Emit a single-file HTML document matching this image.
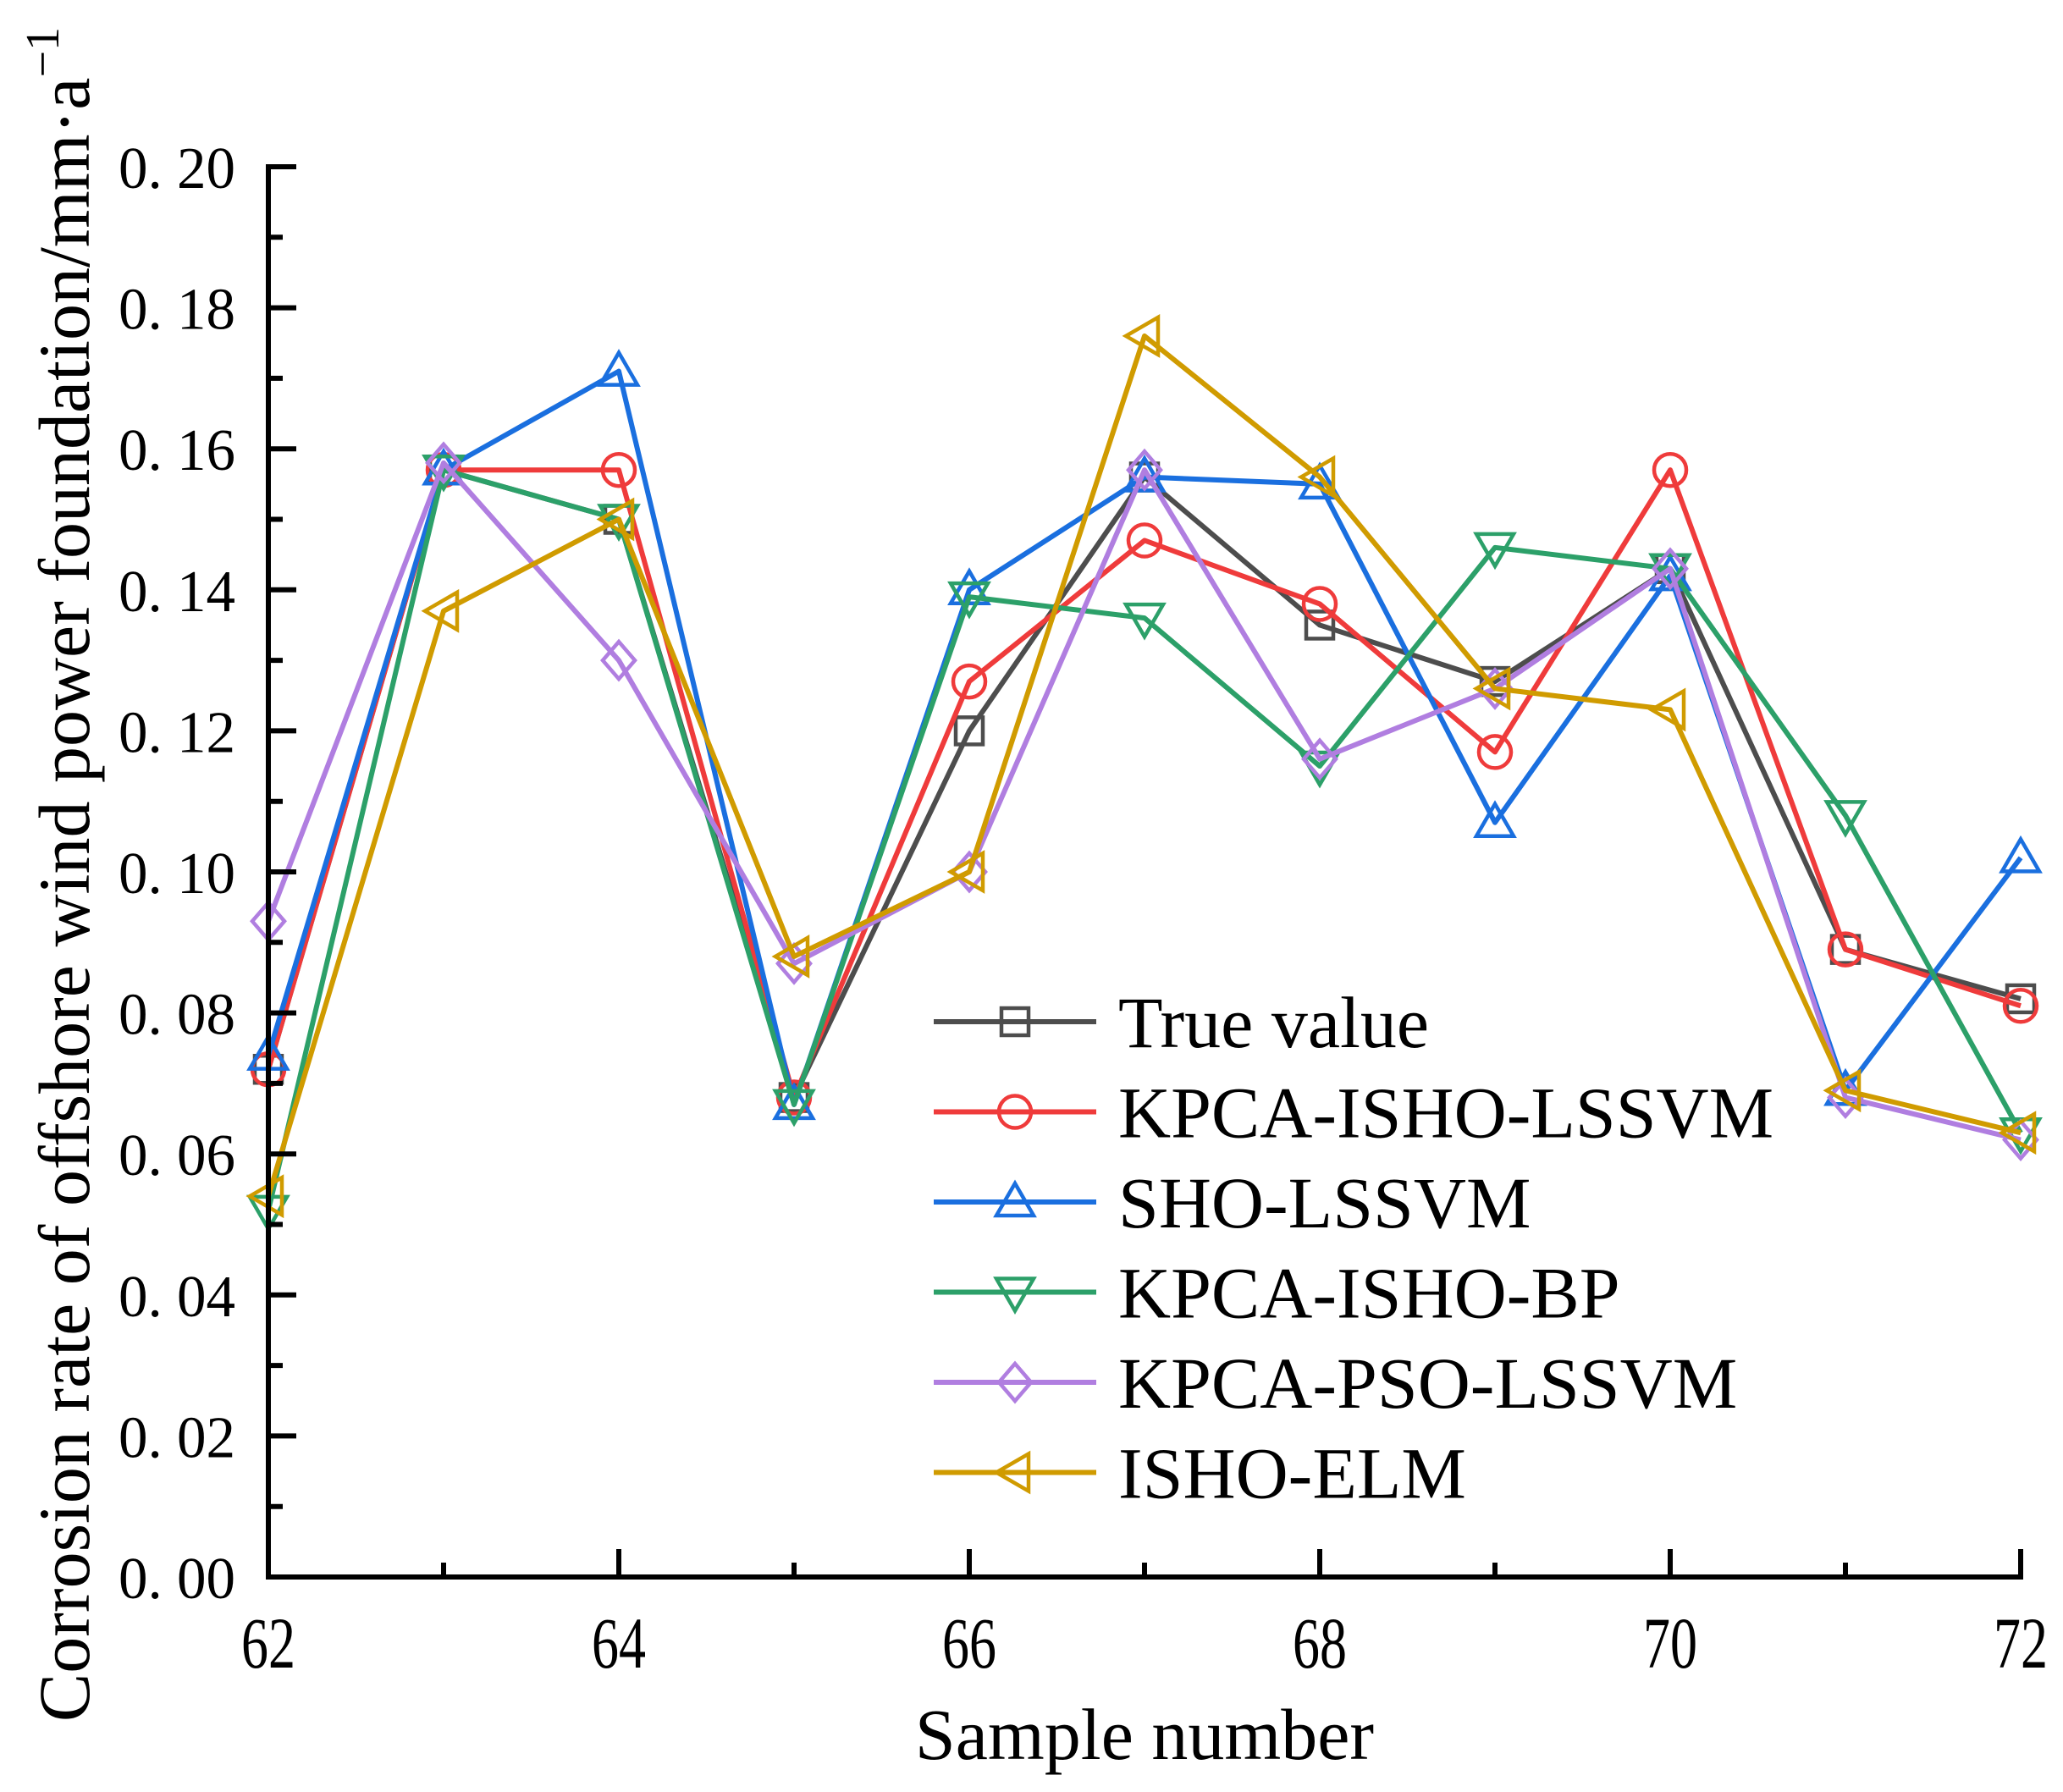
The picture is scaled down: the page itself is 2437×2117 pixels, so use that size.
<!DOCTYPE html>
<html><head><meta charset="utf-8"><style>
html,body{margin:0;padding:0;background:#fff;}
svg{display:block;}
text{font-family:"Liberation Serif",serif;fill:#000;}
</style></head><body>
<svg id="chart" width="2437" height="2117" viewBox="0 0 2437 2117" xmlns="http://www.w3.org/2000/svg">
<g id="series-layer"></g>
<g id="axes-layer"></g>
<g id="legend-layer"></g>
<text x="1352" y="2078" font-size="86" text-anchor="middle">Sample number</text>
<text transform="translate(105,1033) rotate(-90)" font-size="86" text-anchor="middle">Corrosion rate of offshore wind power foundation/mm·a<tspan font-size="56" dy="-36">−1</tspan></text>
</svg>
<script>
const categories = [62,63,64,65,66,67,68,69,70,71,72];
const seriesNames = ["True value","KPCA-ISHO-LSSVM","SHO-LSSVM","KPCA-ISHO-BP","KPCA-PSO-LSSVM","ISHO-ELM"];
const trueValue   = [0.072,0.157,0.150,0.068,0.120,0.156,0.135,0.127,0.143,0.089,0.082];
const kpcaIshoLssvm = [0.072,0.157,0.157,0.068,0.127,0.147,0.138,0.117,0.157,0.089,0.081];
const shoLssvm    = [0.074,0.157,0.171,0.067,0.140,0.156,0.155,0.107,0.142,0.069,0.102];
const kpcaIshoBp  = [0.052,0.157,0.150,0.067,0.139,0.136,0.115,0.146,0.143,0.108,0.063];
const kpcaPsoLssvm= [0.093,0.158,0.130,0.087,0.100,0.157,0.116,0.126,0.143,0.068,0.062];
const ishoElm     = [0.054,0.137,0.150,0.088,0.100,0.176,0.156,0.126,0.123,0.069,0.063];
const yTicks = [0,0.02,0.04,0.06,0.08,0.10,0.12,0.14,0.16,0.18,0.20];
const yTickLabels = ["0. 00","0. 02","0. 04","0. 06","0. 08","0. 10","0. 12","0. 14","0. 16","0. 18","0. 20"];
const xTicks = [62,64,66,68,70,72];

const NS="http://www.w3.org/2000/svg";
const X0=317,X1=2387,Y0=1863,Y1=197,XMIN=62,XMAX=72,YMIN=0,YMAX=0.2;
function xs(v){return X0+(v-XMIN)/(XMAX-XMIN)*(X1-X0);}
function ys(v){return Y0-(v-YMIN)/(YMAX-YMIN)*(Y0-Y1);}
function mk(tag,attrs,parent){const e=document.createElementNS(NS,tag);for(const k in attrs)e.setAttribute(k,attrs[k]);parent.appendChild(e);return e;}

const colors=["#4d4d4d","#ef3b3b","#1a6fdf","#2ca069","#b07ee0","#d09b00"];
const markers=["square","circle","up","down","diamond","left"];
const allData=[trueValue,kpcaIshoLssvm,shoLssvm,kpcaIshoBp,kpcaPsoLssvm,ishoElm];
const slug=["true-value","kpca-isho-lssvm","sho-lssvm","kpca-isho-bp","kpca-pso-lssvm","isho-elm"];

function marker(type,cx,cy,col,parent){
  const r=19;let e;const st={fill:"none",stroke:col,"stroke-width":4.5};
  if(type==="square"){e=mk("rect",Object.assign({x:cx-16,y:cy-16,width:32,height:32},st),parent);}
  else if(type==="circle"){e=mk("circle",Object.assign({cx:cx,cy:cy,r:r},st),parent);}
  else{let p;
    if(type==="up")p=[[cx,cy-r-3],[cx+r+3,cy+r-3],[cx-r-3,cy+r-3]];
    else if(type==="down")p=[[cx,cy+r+3],[cx+r+3,cy-r+3],[cx-r-3,cy-r+3]];
    else if(type==="left")p=[[cx-r-3,cy],[cx+r-3,cy-r-3],[cx+r-3,cy+r+3]];
    else p=[[cx,cy-r-3],[cx+r,cy],[cx,cy+r+3],[cx-r,cy]];
    e=mk("polygon",Object.assign({points:p.map(q=>q.join(",")).join(" ")},st),parent);}
  return e;
}

const sl=document.getElementById("series-layer");
allData.forEach((d,i)=>{
  const g=mk("g",{},sl);
  
  
  const pts=d.map((v,j)=>xs(categories[j])+","+ys(v)).join(" ");
  const pl=mk("polyline",{points:pts,fill:"none",stroke:colors[i],"stroke-width":6,"stroke-linejoin":"round"},g);
  
  
  d.forEach((v,j)=>{
    const m=marker(markers[i],xs(categories[j]),ys(v),colors[i],g);
    
    
  });
});

const ax=document.getElementById("axes-layer");
const xl=mk("line",{x1:X0-3,y1:Y0,x2:X1+3,y2:Y0,stroke:"#000","stroke-width":6},ax);


const yl=mk("line",{x1:X0,y1:Y0+3,x2:X0,y2:Y1-3,stroke:"#000","stroke-width":6},ax);


for(let v=XMIN;v<=XMAX;v++){
  const major=xTicks.includes(v);
  const t=mk("line",{x1:xs(v),y1:Y0,x2:xs(v),y2:Y0-(major?33:17),stroke:"#000","stroke-width":6},ax);
  
  
}
xTicks.forEach(v=>{
  const t=mk("text",{x:xs(v),y:1970,"font-size":86,"text-anchor":"middle",textLength:64,lengthAdjust:"spacingAndGlyphs"},ax);
  t.textContent=String(v);
  
  
});
yTicks.forEach((v,i)=>{
  const t=mk("line",{x1:X0,y1:ys(v),x2:X0+33,y2:ys(v),stroke:"#000","stroke-width":6},ax);
  
  
  if(i<yTicks.length-1){
    const m=mk("line",{x1:X0,y1:ys(v+0.01),x2:X0+17,y2:ys(v+0.01),stroke:"#000","stroke-width":6},ax);
    
    
  }
  const l=mk("text",{x:140,y:ys(v)+25,"font-size":70,textLength:138,lengthAdjust:"spacingAndGlyphs"},ax);
  l.textContent=yTickLabels[i];
  
  
});

const lg=document.getElementById("legend-layer");


seriesNames.forEach((n,i)=>{
  const y=1207+i*106.5;
  const g=mk("g",{},lg);
  
  
  mk("line",{x1:1103,y1:y,x2:1295,y2:y,stroke:colors[i],"stroke-width":6},g);
  marker(markers[i],1199,y,colors[i],g);
  const t=mk("text",{x:1321,y:y+30,"font-size":86},g);
  t.textContent=n;
});
</script>
</body></html>
